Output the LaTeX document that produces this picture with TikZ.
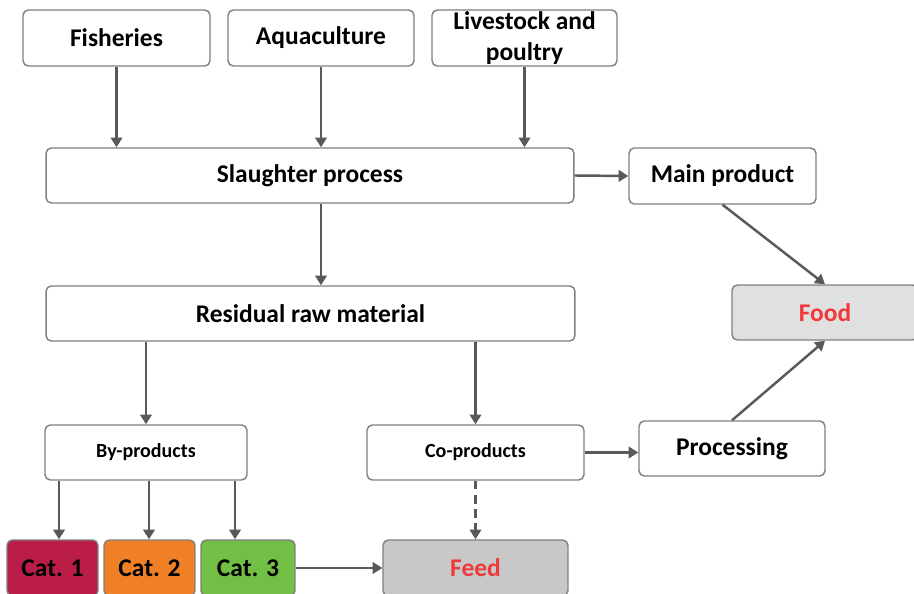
\documentclass[tikz,border=0pt]{standalone}
\usepackage{fontspec}
\setmainfont{Carlito}
\usetikzlibrary{arrows.meta}
\definecolor{boxgray}{HTML}{7F7F7F}
\definecolor{arrgray}{HTML}{595959}
\definecolor{catred}{HTML}{B91D48}
\definecolor{catorange}{HTML}{F08026}
\definecolor{catgreen}{HTML}{71BF44}
\definecolor{feedgray}{HTML}{C8C8C8}
\definecolor{foodgray}{HTML}{E0E0E0}
\definecolor{outred}{HTML}{EE3A3A}

\begin{document}
\begin{tikzpicture}[x=0.02cm, y=-0.02cm,
    box/.style={draw=boxgray, line width=0.8pt, rounded corners=3pt, fill=white,
      inner sep=0pt, minimum height=1.1cm, align=center,
      font=\fontsize{14.5}{17.6}\selectfont\bfseries},
    smallbox/.style={box, font=\fontsize{11.4}{13}\selectfont\bfseries},
    catbox/.style={box, minimum width=1.82cm, minimum height=1.12cm},
    arr/.style={draw=arrgray, line width=1.4pt, -{Triangle[length=5.5pt,width=6.5pt]}}]
    \useasboundingbox (0,0) rectangle (914,594);

    % sources
    \node[box, minimum width=3.74cm, minimum height=1.12cm] (fish) at (116.5,38) {Fisheries};
    \node[box, minimum width=3.72cm, minimum height=1.12cm] (aqua) at (321,38) {Aquaculture};
    \node[box, minimum width=3.7cm, minimum height=1.12cm] (live) at (524.5,38) {Livestock and\\poultry};

    % main flow
    \node[box, minimum width=10.56cm] (slaughter) at (310,175.5) {Slaughter process};
    \node[box, minimum width=3.74cm, minimum height=1.12cm] (main) at (722.5,176) {Main product};
    \node[box, minimum width=10.58cm] (resid) at (310.5,313.5) {Residual raw material};
    \node[box, minimum width=3.72cm, fill=foodgray, text=outred] (food) at (825,312.5) {Food};
    \node[smallbox, minimum width=4.04cm] (byprod) at (146,452.5) {By-products};
    \node[smallbox, minimum width=4.34cm] (coprod) at (475.5,452.5) {Co-products};
    \node[box, minimum width=3.72cm] (proc) at (732,448.5) {Processing};

    % categories
    \node[catbox, fill=catred] (cat1) at (52.5,568) {Cat. 1};
    \node[catbox, fill=catorange] (cat2) at (149.5,568) {Cat. 2};
    \node[catbox, fill=catgreen, minimum width=1.88cm] (cat3) at (248,568) {Cat. 3};
    \node[box, minimum width=3.7cm, minimum height=1.12cm, fill=feedgray, text=outred] (feed) at (475.5,568) {Feed};

    % connectors
    \foreach \src in {fish, aqua, live}{
        \draw[arr] (\src.south) -- (\src.south |- slaughter.north);
    }
    \draw[arr] (slaughter.east) -- (main.west);
    \draw[arr] (slaughter.south -| aqua.south) -- (resid.north -| aqua.south);
    \draw[arr] (main.south) -- (food.north);
    \draw[arr] (byprod.north |- resid.south) -- (byprod.north);
    \draw[arr] (coprod.north |- resid.south) -- (coprod.north);
    \foreach \cat/\x in {cat1/59, cat2/149, cat3/235}{
        \draw[arr] (byprod.south -| \x,0) -- (\cat.north -| \x,0);
    }
    \draw[arr] (cat3.east) -- (feed.west);
    \draw[arr, dash pattern=on 5pt off 3pt] (coprod.south) -- (feed.north);
    \draw[arr] (coprod.east) -- (coprod.east -| proc.west);
    \draw[arr] (proc.north) -- (food.south);
\end{tikzpicture}
\end{document}
